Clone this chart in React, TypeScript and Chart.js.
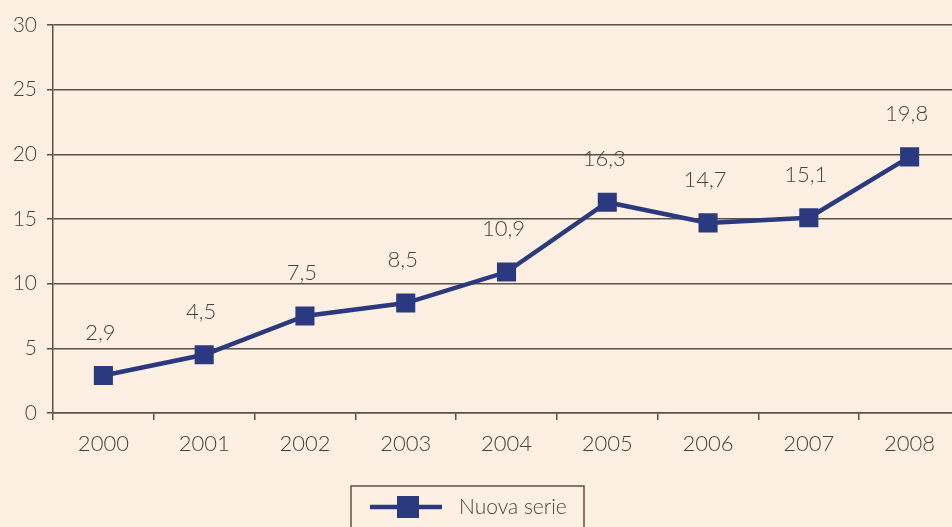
import React, { useEffect, useRef } from "react";
import { Chart, registerables } from "chart.js";

Chart.register(...registerables);

const categories = ["2000", "2001", "2002", "2003", "2004", "2005", "2006", "2007", "2008"];
const seriesName = "Nuova serie";
const values = [2.9, 4.5, 7.5, 8.5, 10.9, 16.3, 14.7, 15.1, 19.8];
const yTicks = [0, 5, 10, 15, 20, 25, 30];

const BG = "#fdf0e2";
const NAVY = "#2b3a80";
const GRID = "#5c504a";
const TEXT = "#4a4242";
const FONT = "Lato";

const fmt = (v: number) => v.toFixed(1).replace(".", ",");

export default function App() {
  const ref = useRef<HTMLCanvasElement | null>(null);

  useEffect(() => {
    document.body.style.margin = "0";
    document.body.style.background = BG;
    document.body.style.overflow = "hidden";
    const canvas = ref.current;
    if (!canvas) return;

    const bgPlugin = {
      id: "bg",
      beforeDraw(chart: any) {
        const { ctx, width, height } = chart;
        ctx.save();
        ctx.fillStyle = BG;
        ctx.fillRect(0, 0, width, height);
        ctx.restore();
      },
    };

    const labelPlugin = {
      id: "valueLabels",
      afterDatasetsDraw(chart: any) {
        const { ctx } = chart;
        const meta = chart.getDatasetMeta(0);
        ctx.save();
        ctx.font = `300 22px ${FONT}`;
        ctx.fillStyle = TEXT;
        ctx.textAlign = "center";
        ctx.textBaseline = "middle";
        meta.data.forEach((pt: any, i: number) => {
          ctx.fillText(fmt(values[i]), pt.x - 3, pt.y - 43);
        });
        ctx.restore();
      },
    };

    const legendPlugin = {
      id: "customLegend",
      afterDraw(chart: any) {
        const { ctx } = chart;
        ctx.save();
        ctx.strokeStyle = GRID;
        ctx.lineWidth = 1.5;
        ctx.strokeRect(351, 486, 233, 60);
        const cy = 507;
        ctx.strokeStyle = NAVY;
        ctx.lineWidth = 4.5;
        ctx.beginPath();
        ctx.moveTo(370, cy);
        ctx.lineTo(442, cy);
        ctx.stroke();
        ctx.fillStyle = NAVY;
        ctx.fillRect(397, cy - 11, 22, 22);
        ctx.font = `300 21px ${FONT}`;
        ctx.fillStyle = TEXT;
        ctx.textAlign = "left";
        ctx.textBaseline = "middle";
        ctx.fillText(chart.data.datasets[0].label, 459, cy);
        ctx.restore();
      },
    };

    const chart = new Chart(canvas, {
      type: "line",
      data: {
        labels: categories,
        datasets: [
          {
            label: seriesName,
            data: values,
            borderColor: NAVY,
            backgroundColor: NAVY,
            borderWidth: 4.5,
            pointStyle: "rect",
            pointRadius: 13.5,
            pointBorderWidth: 0,
            pointBackgroundColor: NAVY,
            tension: 0,
          },
        ],
      },
      options: {
        responsive: false,
        animation: false,
        layout: { autoPadding: false, padding: { top: 25, bottom: 54, left: 0, right: 0 } },
        plugins: {
          legend: { display: false },
          tooltip: { enabled: false },
        },
        scales: {
          x: {
            offset: true,
            grid: {
              offset: true,
              drawOnChartArea: false,
              drawTicks: true,
              tickLength: 7,
              color: GRID,
              lineWidth: 1.5,
            },
            border: { display: true, color: GRID, width: 1.5 },
            ticks: {
              color: TEXT,
              font: { family: FONT, size: 22, weight: "300" as any },
              padding: 11,
              maxRotation: 0,
            },
            afterFit(s: any) {
              s.height = 60;
              s.paddingLeft = 0;
              s.paddingRight = 0;
            },
          },
          y: {
            min: 0,
            max: 30,
            afterBuildTicks(s: any) {
              s.ticks = yTicks.map((v) => ({ value: v }));
            },
            grid: {
              color: GRID,
              lineWidth: 1.5,
              tickLength: 6,
            },
            border: { display: true, color: GRID, width: 1.5 },
            ticks: {
              color: TEXT,
              font: { family: FONT, size: 21, weight: "300" as any },
              padding: 10,
            },
            afterFit(s: any) {
              s.width = 53;
              s.paddingTop = 0;
              s.paddingBottom = 0;
            },
          },
        },
      },
      plugins: [bgPlugin, labelPlugin, legendPlugin],
    });

    return () => chart.destroy();
  }, []);

  return (
    <div style={{ width: 952, height: 527, background: BG, overflow: "hidden" }}>
      <canvas ref={ref} width={960} height={527} style={{ display: "block" }} />
    </div>
  );
}
